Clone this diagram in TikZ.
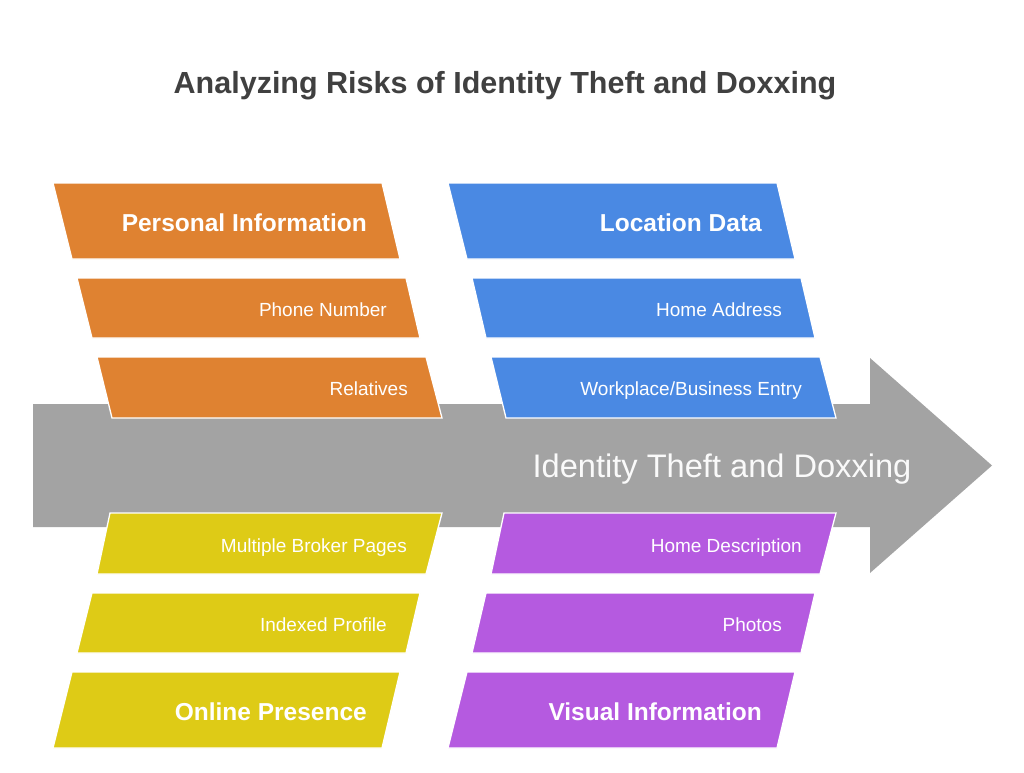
\documentclass[tikz,border=0pt]{standalone}
\usepackage{fontspec}
\setmainfont{Liberation Sans}
\definecolor{corange}{RGB}{223,130,49}
\definecolor{cblue}{RGB}{74,137,227}
\definecolor{cyellow}{RGB}{222,203,22}
\definecolor{cpurple}{RGB}{181,90,224}
\definecolor{cgray}{RGB}{163,163,163}
\definecolor{ctitle}{RGB}{64,64,64}
\begin{document}
\begin{tikzpicture}[x=1pt,y=-1pt,
  box/.style={draw=white,line width=1.3pt,line join=miter},
  lbl/.style={text=white,font=\fontsize{19}{19}\selectfont,anchor=base east,inner sep=0pt},
  hdr/.style={text=white,font=\bfseries\fontsize{24.5}{24.5}\selectfont,anchor=base east,inner sep=0pt}]
\useasboundingbox (0,0) rectangle (1024,772);
\fill[white] (0,0) rectangle (1024,772);
% title
\node[font=\bfseries\fontsize{30.5}{30.5}\selectfont,text=ctitle,anchor=base,inner sep=0pt] (title) at (505,93) {Analyzing Risks of Identity Theft and Doxxing};
% main arrow
\fill[cgray] (33,404) -- (870,404) -- (870,358) -- (992,465.5) -- (870,573) -- (870,527) -- (33,527) -- cycle;
\node[text=white!96!gray,font=\fontsize{32.6}{32.6}\selectfont,anchor=base,inner sep=0pt] (main) at (722,477) {Identity Theft and Doxxing};
% top-left (orange)
\filldraw[box,fill=corange] (53,183) -- (382,183) -- (400,259) -- (72,259) -- cycle;
\filldraw[box,fill=corange] (77,278) -- (406,278) -- (420,338) -- (92,338) -- cycle;
\filldraw[box,fill=corange] (97,357) -- (426,357) -- (442,418) -- (112,418) -- cycle;
% top-right (blue)
\filldraw[box,fill=cblue] (448,183) -- (777,183) -- (795,259) -- (467,259) -- cycle;
\filldraw[box,fill=cblue] (472,278) -- (801,278) -- (815,338) -- (486,338) -- cycle;
\filldraw[box,fill=cblue] (491,357) -- (820,357) -- (836,418) -- (506,418) -- cycle;
% bottom-left (yellow)
\filldraw[box,fill=cyellow] (110,513) -- (442,513) -- (426,574) -- (97,574) -- cycle;
\filldraw[box,fill=cyellow] (92,593) -- (420,593) -- (406,653) -- (77,653) -- cycle;
\filldraw[box,fill=cyellow] (72,672) -- (400,672) -- (382,748) -- (53,748) -- cycle;
% bottom-right (purple)
\filldraw[box,fill=cpurple] (504,513) -- (836,513) -- (820,574) -- (491,574) -- cycle;
\filldraw[box,fill=cpurple] (486,593) -- (815,593) -- (801,653) -- (472,653) -- cycle;
\filldraw[box,fill=cpurple] (467,672) -- (795,672) -- (777,748) -- (448,748) -- cycle;
% labels
\node[hdr] (pi) at (367,231) {Personal Information};
\node[lbl] (pn) at (387,316) {Phone Number};
\node[lbl] (rel) at (408,395) {Relatives};
\node[hdr] (ld) at (762,231) {Location Data};
\node[lbl] (ha) at (782,316) {Home Address};
\node[lbl] (wp) at (802,395) {Workplace/Business Entry};
\node[lbl] (mb) at (407,552) {Multiple Broker Pages};
\node[lbl] (ip) at (387,631.5) {Indexed Profile};
\node[hdr] (op) at (367,720) {Online Presence};
\node[lbl] (hd) at (802,552) {Home Description};
\node[lbl] (ph) at (782,631.5) {Photos};
\node[hdr] (vi) at (762,720) {Visual Information};
\end{tikzpicture}
\end{document}
